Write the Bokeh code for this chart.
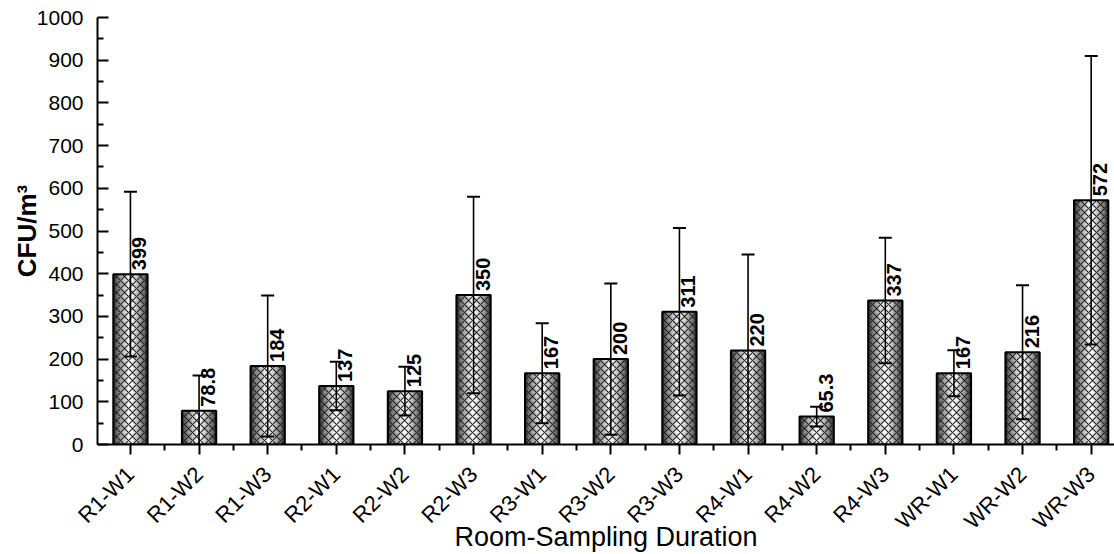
import numpy as np
from bokeh.plotting import figure
from bokeh.models import ColumnDataSource, FixedTicker, Range1d
from bokeh.core.properties import value
from bokeh.embed import file_html
from bokeh.resources import INLINE

# ---- data ----
categories = ["R1-W1", "R1-W2", "R1-W3", "R2-W1", "R2-W2", "R2-W3", "R3-W1", "R3-W2",
              "R3-W3", "R4-W1", "R4-W2", "R4-W3", "WR-W1", "WR-W2", "WR-W3"]
means = [399, 78.8, 184, 137, 125, 350, 167, 200, 311, 220, 65.3, 337, 167, 216, 572]
errors = [193, 83, 165, 57, 57, 230, 117, 177, 196, 225, 23, 147, 54, 157, 338]
value_labels = ["399", "78.8", "184", "137", "125", "350", "167", "200", "311", "220",
                "65.3", "337", "167", "216", "572"]
y_ticks = list(range(0, 1001, 100))
x_title = "Room-Sampling Duration"
y_title = "CFU/m³"

FONT = "Liberation Sans"

xs = list(range(1, len(categories) + 1))
src = ColumnDataSource(dict(
    x=xs, top=means,
    lower=[m - e for m, e in zip(means, errors)],
    upper=[m + e for m, e in zip(means, errors)],
    label=value_labels,
))

p = figure(width=1114, height=554, output_backend="svg", toolbar_location=None,
           x_range=Range1d(0.52, 15.34), y_range=Range1d(0, 1000),
           min_border_left=97, min_border_right=0, min_border_top=17, min_border_bottom=110)
p.outline_line_color = None
p.grid.visible = False
p.background_fill_color = "white"

# gradient imitation: concentric bars (dark edges -> light centre)
bar_w = 0.5
n_steps = 14
for i in range(n_steps):
    frac = i / (n_steps - 1)
    w = bar_w * (1 - frac * 0.93)
    g = int(40 + (255 - 40) * (frac ** 0.7))
    col = "#%02x%02x%02x" % (g, g, g)
    p.vbar(x="x", top="top", bottom=0, width=w, source=src,
           fill_color=col, line_color=None)

# cross hatch + outline
p.vbar(x="x", top="top", bottom=0, width=bar_w, source=src,
       fill_alpha=0, line_color="black", line_width=2,
       hatch_pattern="diagonal_cross", hatch_color="#222222",
       hatch_scale=8, hatch_weight=1.1)

# error bars
p.segment(x0="x", y0="lower", x1="x", y1="upper", source=src,
          line_color="black", line_width=1.6)
p.dash(x="x", y="upper", source=src, size=13, line_color="black", line_width=2)
p.dash(x="x", y="lower", source=src, size=13, line_color="black", line_width=2)

# value labels
p.text(x="x", y="top", text="label", source=src, angle=np.pi / 2,
       text_align="left", text_baseline="top", x_offset=2, y_offset=-4,
       text_font=value(FONT), text_font_style="bold", text_font_size="20px",
       text_color="black")

# axes
xa = p.xaxis[0]
xa.ticker = FixedTicker(ticks=xs, minor_ticks=[x + 0.5 for x in xs[:-1]] + [0.5])
xa.major_label_overrides = {x: c for x, c in zip(xs, categories)}
xa.major_label_orientation = np.pi / 4
xa.major_label_text_font = FONT
xa.major_label_text_font_size = "22px"
xa.major_label_text_color = "black"
xa.major_tick_out = 10
xa.major_tick_in = 0
xa.minor_tick_out = 6
xa.minor_tick_in = 0
xa.axis_line_width = 2
xa.major_tick_line_width = 2
xa.minor_tick_line_width = 2
xa.major_label_standoff = 16
xa.axis_label = x_title
xa.axis_label_text_font = FONT
xa.axis_label_text_font_size = "27px"
xa.axis_label_text_font_style = "normal"
xa.axis_label_text_color = "black"
xa.axis_label_standoff = -24

ya = p.yaxis[0]
ya.ticker = FixedTicker(ticks=y_ticks, minor_ticks=[t + 50 for t in y_ticks[:-1]])
ya.major_label_text_font = FONT
ya.major_label_text_font_size = "21px"
ya.major_label_text_color = "black"
ya.major_tick_in = 11
ya.major_tick_out = 0
ya.minor_tick_in = 6
ya.minor_tick_out = 0
ya.axis_line_width = 2
ya.major_tick_line_width = 2
ya.minor_tick_line_width = 2
ya.major_label_standoff = 14
ya.axis_label = y_title
ya.axis_label_text_font = FONT
ya.axis_label_text_font_size = "26px"
ya.axis_label_text_font_style = "bold"
ya.axis_label_text_color = "black"
ya.axis_label_standoff = -8

open("out.html", "w").write(file_html(p, INLINE))
